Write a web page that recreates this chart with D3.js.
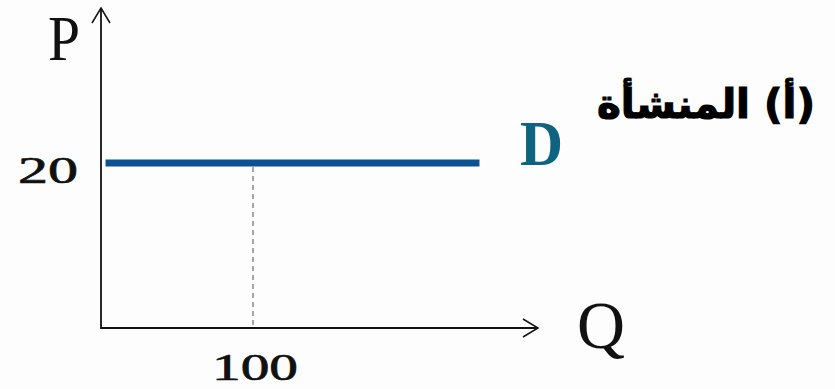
<!DOCTYPE html>
<html>
<head>
<meta charset="utf-8">
<script src="https://cdn.jsdelivr.net/npm/d3@7"></script>
<style>
  html, body { margin: 0; padding: 0; background: #fdfdfd; }
  svg { display: block; }
</style>
</head>
<body>
<svg id="chart"></svg>
<script>
// Horizontal demand curve for one firm: price fixed at 20, Q marked at 100

const demandQ = [3, 249];          // start / end quantity of the D line
const demandP = 20;                // price level
const markQ = 100;                 // dashed guide quantity
const priceTicks = ['20'];
const qtyTicks = ['100'];
const labels = { p: 'P', q: 'Q', d: 'D', title: '(أ) المنشأة' };

const W = 835, H = 389;
const svg = d3.select('#chart').attr('width', W).attr('height', H);

const x = d3.scaleLinear().domain([0, 250]).range([101, 481]);
const y = d3.scaleLinear().domain([0, 20]).range([328, 163]);

// ── Axes with open arrowheads ─────────────────────────────────────────────
const axisColor = '#111';
const x0 = x(0), y0 = y(0);
const yTop = 8, xRight = 538;

svg.append('line').attr('x1', x0).attr('y1', y0 + 1).attr('x2', x0).attr('y2', yTop)
    .attr('stroke', axisColor).attr('stroke-width', 1.8);
svg.append('path').attr('d', `M${x0 - 9},${yTop + 15} L${x0},${yTop} L${x0 + 9},${yTop + 15}`)
    .attr('fill', 'none').attr('stroke', axisColor).attr('stroke-width', 1.5);

svg.append('line').attr('x1', x0).attr('y1', y0).attr('x2', xRight).attr('y2', y0)
    .attr('stroke', axisColor).attr('stroke-width', 1.8);
svg.append('path').attr('d', `M${xRight - 15},${y0 - 9} L${xRight},${y0} L${xRight - 15},${y0 + 9}`)
    .attr('fill', 'none').attr('stroke', axisColor).attr('stroke-width', 1.5);

// ── Dashed guide ──────────────────────────────────────────────────────────
svg.append('line')
    .attr('x1', x(markQ)).attr('x2', x(markQ))
    .attr('y1', y(demandP) + 4).attr('y2', y0)
    .attr('stroke', '#777').attr('stroke-width', 1.3)
    .attr('stroke-dasharray', '5,4');

// ── Demand line ───────────────────────────────────────────────────────────
svg.append('line')
    .attr('x1', x(demandQ[0])).attr('x2', x(demandQ[1]))
    .attr('y1', y(demandP)).attr('y2', y(demandP))
    .attr('stroke', '#0d5194').attr('stroke-width', 7);

// ── Text ──────────────────────────────────────────────────────────────────
const serif = "'Liberation Serif', 'DejaVu Serif', serif";

svg.append('text').attr('x', 48).attr('y', 60)
    .attr('font-family', serif).attr('font-size', 64).attr('fill', '#111')
    .attr('textLength', 32).attr('lengthAdjust', 'spacingAndGlyphs')
    .text(labels.p);

// old-style looking figures: short digits stretched to the reference width
svg.selectAll('.ptick').data(priceTicks).join('text')
    .attr('class', 'ptick')
    .attr('x', 18).attr('y', y(+priceTicks[0]) + 20)
    .attr('font-family', serif).attr('font-size', 38).attr('fill', '#111')
    .attr('stroke', '#111').attr('stroke-width', 0.7)
    .attr('textLength', 60).attr('lengthAdjust', 'spacingAndGlyphs')
    .text(d => d);

svg.selectAll('.qtick').data(qtyTicks).join('text')
    .attr('class', 'qtick')
    .attr('x', 212).attr('y', 380)
    .attr('font-family', serif).attr('font-size', 38).attr('fill', '#111')
    .attr('stroke', '#111').attr('stroke-width', 0.7)
    .attr('textLength', 86).attr('lengthAdjust', 'spacingAndGlyphs')
    .text(d => d);

svg.append('text').attr('x', 577).attr('y', 348)
    .attr('font-family', serif).attr('font-size', 68).attr('fill', '#111')
    .attr('textLength', 48).attr('lengthAdjust', 'spacingAndGlyphs')
    .text(labels.q);

svg.append('text').attr('x', 520).attr('y', 165)
    .attr('font-family', serif).attr('font-size', 64).attr('font-weight', 'bold')
    .attr('fill', '#0e6380')
    .attr('textLength', 43).attr('lengthAdjust', 'spacingAndGlyphs')
    .text(labels.d);

svg.append('text').attr('x', 815).attr('y', 118)
    .attr('direction', 'rtl').attr('text-anchor', 'start')
    .attr('font-family', "'DejaVu Sans', 'Noto Sans', sans-serif")
    .attr('font-size', 40.5).attr('font-weight', 'bold').attr('fill', '#000')
    .attr('stroke', '#000').attr('stroke-width', 1.2)
    .text(labels.title);
</script>
</body>
</html>
